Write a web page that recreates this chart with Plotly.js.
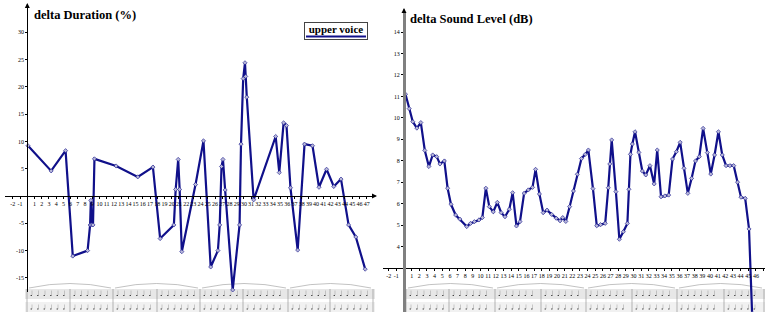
<!DOCTYPE html>
<html>
<head>
<meta charset="utf-8">
<script src="https://cdn.plot.ly/plotly-3.0.1.min.js"></script>
<style>html,body{margin:0;padding:0;background:#fff;}#chart{width:765px;height:312px;}</style>
</head>
<body>
<div id="chart"></div>
<script>
// ---- data: delta Duration (%) (upper voice) ----
const durX = [0.1, 3.3, 5.3, 6.3, 8.35, 8.7, 8.8, 8.9, 9.1, 9.3, 12.3, 15.3, 17.4, 18.4, 20.3, 20.55, 20.9, 21.1, 21.4,
  23.3, 24.4, 25.4, 26.4, 26.65, 26.9, 27.1, 27.4, 28.45, 29.4, 29.6, 29.9, 30.15, 30.25, 30.4, 31.35, 34.4, 34.9,
  35.5, 35.9, 36.45, 37.45, 38.4, 39.5, 40.4, 41.45, 42.45, 43.45, 44.5, 45.5, 46.8];
const durY = [9.2, 4.6, 8.3, -11.0, -10.0, -5.3, -0.8, -5.3, -5.3, 6.8, 5.5, 3.5, 5.3, -7.8, -5.3, 1.2, 6.7, 1.2, -10.2,
  2.1, 10.1, -13.0, -10.0, -5.3, 5.4, 6.7, 1.1, -17.2, -5.3, 9.5, 21.5, 24.4, 21.9, 18.1, -0.7, 10.9, 4.3,
  13.4, 12.9, 1.5, -9.9, 9.5, 9.2, 1.6, 4.9, 1.75, 3.1, -5.3, -7.5, -13.4];

// ---- data: delta Sound Level (dB) ----
const slX = [0.2, 0.68, 1.15, 1.68, 2.2, 2.72, 3.25, 3.75, 4.27, 4.7, 5.27, 5.7, 6.14, 6.75, 7.3, 8.2, 8.7, 9.2, 9.8, 10.24,
  10.7, 11.15, 11.67, 12.2, 12.7, 13.2, 13.77, 14.2, 14.7, 15.16, 15.7, 16.25, 16.8, 17.2, 17.7, 18.2, 18.7, 19.3, 19.9,
  20.4, 20.75, 21.15, 21.65, 22.15, 22.65, 23.2, 23.7, 24.1, 24.7, 25.2, 25.7, 26.3, 26.7, 26.9, 27.15, 27.7, 28.15,
  28.67, 29.2, 29.4, 29.6, 29.85, 30.2, 30.7, 31.15, 31.6, 32.15, 32.7, 33.1, 33.6, 34.1, 34.6, 35.1, 35.6, 36.1, 36.6,
  37.1, 37.6, 38.1, 38.6, 39.1, 39.65, 40.1, 40.6, 41.1, 41.6, 42.1, 42.6, 43.1, 43.6, 44.05, 44.6, 45.1, 45.5];
const slY = [11.1, 10.43, 9.82, 9.52, 9.78, 8.48, 7.73, 8.27, 8.19, 7.85, 7.99, 6.72, 5.97, 5.47, 5.28, 4.93, 5.08, 5.16, 5.24, 5.35,
  6.72, 5.86, 5.62, 6.06, 5.58, 5.39, 5.74, 6.51, 4.96, 5.16, 6.48, 6.64, 6.76, 7.6, 6.45, 5.58, 5.7, 5.5, 5.32,
  5.2, 5.35, 5.17, 5.86, 6.59, 7.37, 8.1, 8.3, 8.5, 6.7, 4.97, 5.02, 5.08, 6.74, 7.85, 8.97, 6.56, 4.34,
  4.69, 5.08, 6.67, 8.3, 8.78, 9.35, 8.39, 7.52, 7.34, 7.77, 6.92, 8.5, 6.32, 6.36, 6.4, 8.08, 8.42, 8.86, 7.65,
  6.48, 7.18, 7.99, 8.19, 9.51, 8.38, 7.38, 8.27, 9.35, 8.27, 7.77, 7.77, 7.77, 7.0, 6.3, 6.25, 4.82, 0.9];

// ---- tick labels ----
const measureTicks = [-2, -1, 1, 2, 3, 4, 5, 6, 7, 8, 9, 10, 11, 12, 13, 14, 15, 16, 17, 18, 19, 20, 21, 22, 23, 24,
  25, 26, 27, 28, 29, 30, 31, 32, 33, 34, 35, 36, 37, 38, 39, 40, 41, 42, 43, 44, 45, 46, 47];
const durTicks = [-15, -10, -5, 5, 10, 15, 20, 25, 30];
const slTicks = [4, 5, 6, 7, 8, 9, 10, 11, 12, 13, 14];

const titleLeft = 'delta Duration (%)';
const titleRight = 'delta Sound Level (dB)';
const legendName = 'upper voice';

// ---- layout helpers (pixel -> paper) ----
const W = 765, H = 312;
const px = v => v / W;
const py = v => 1 - v / H;

const lineColor = '#10108a';
const serif = 'Liberation Serif, Times New Roman, serif';
const tickFont = {family: serif, size: 6, color: '#000'};

const traceStyle = {
  mode: 'lines+markers',
  line: {color: lineColor, width: 2.2},
  marker: {symbol: 'diamond', size: 3.2, color: '#b8b8d8', line: {color: lineColor, width: 0.6}},
  showlegend: false,
  hoverinfo: 'x+y'
};

const traces = [
  Object.assign({x: durX, y: durY, xaxis: 'x', yaxis: 'y', name: legendName}, traceStyle),
  Object.assign({x: slX, y: slY, xaxis: 'x2', yaxis: 'y2', name: 'sound level'}, traceStyle)
];

// left panel geometry: x=0 at px 27.3, 7.22 px/unit ; y=0 at py 196, 5.46 px/unit
const L = {x0: 27.3, kx: 7.22, y0: 196, ky: 5.46};
// right panel geometry: x=0 at px 404, 7.65 px/unit ; y=3 at py 268, 21.45 px/unit
const R = {x0: 404, kx: 7.65, y0: 268, ky: 21.45, ybase: 3};

function axisCommon() {
  return {
    showgrid: false, zeroline: false, showline: true, linecolor: '#000', linewidth: 1,
    ticks: 'outside', ticklen: 2, tickwidth: 1, tickcolor: '#000', tickfont: tickFont,
    tickmode: 'array', tickangle: 0, anchor: 'free', fixedrange: true
  };
}

const xaxis = Object.assign(axisCommon(), {
  domain: [px(5), px(375)],
  range: [(5 - L.x0) / L.kx, (375 - L.x0) / L.kx],
  position: py(L.y0),
  tickvals: measureTicks, ticktext: measureTicks.map(String)
});
const yaxis = Object.assign(axisCommon(), {
  domain: [py(292), py(5)],
  range: [(L.y0 - 292) / L.ky, (L.y0 - 5) / L.ky],
  position: px(L.x0),
  tickvals: durTicks, ticktext: durTicks.map(String)
});
const xaxis2 = Object.assign(axisCommon(), {
  domain: [px(383), 1],
  range: [(383 - R.x0) / R.kx, (765 - R.x0) / R.kx],
  position: py(R.y0),
  tickvals: measureTicks, ticktext: measureTicks.map(String)
});
const yaxis2 = Object.assign(axisCommon(), {
  domain: [0, py(12)],
  range: [R.ybase + (R.y0 - 312) / R.ky, R.ybase + (R.y0 - 12) / R.ky],
  position: px(R.x0),
  linecolor: '#808080', linewidth: 2.5,
  tickvals: slTicks, ticktext: slTicks.map(String)
});

// ---- decoration: sheet-music strip below each chart ----
const shapes = [];
function musicStrip(xStart, xEnd, bars) {
  shapes.push({type: 'rect', xref: 'paper', yref: 'paper', x0: px(xStart), x1: px(xEnd), y0: py(299), y1: py(289),
    fillcolor: '#f2f2f2', line: {width: 0}, layer: 'below'});
  const staffRows = [290, 292, 294, 296, 298, 303, 305, 307, 309, 311];
  staffRows.forEach(r => shapes.push({type: 'line', xref: 'paper', yref: 'paper', x0: px(xStart), x1: px(xEnd),
    y0: py(r), y1: py(r), line: {color: '#c4c4c4', width: 0.5}, layer: 'below'}));
  bars.forEach(b => shapes.push({type: 'line', xref: 'paper', yref: 'paper', x0: px(b), x1: px(b),
    y0: py(289), y1: py(312), line: {color: '#888', width: 0.6}, layer: 'below'}));
  // sparse note texture
  for (let i = 0; i < bars.length - 1; i++) {
    const a = bars[i] + 5, b = bars[i + 1] - 3;
    for (let s = a; s < b; s += 6.5) {
      shapes.push({type: 'line', xref: 'paper', yref: 'paper', x0: px(s), x1: px(s), y0: py(295), y1: py(290.5),
        line: {color: '#888', width: 0.4}, layer: 'below'});
      shapes.push({type: 'rect', xref: 'paper', yref: 'paper', x0: px(s - 1.4), x1: px(s), y0: py(296), y1: py(295),
        fillcolor: '#444', line: {width: 0}, layer: 'below'});
      shapes.push({type: 'line', xref: 'paper', yref: 'paper', x0: px(s), x1: px(s), y0: py(309), y1: py(304.5),
        line: {color: '#888', width: 0.4}, layer: 'below'});
      shapes.push({type: 'rect', xref: 'paper', yref: 'paper', x0: px(s - 1.4), x1: px(s), y0: py(309.5), y1: py(308.5),
        fillcolor: '#444', line: {width: 0}, layer: 'below'});
    }
  }
  for (let i = 0; i < bars.length - 2; i += 2) {
    const a = bars[i] + 2, b = bars[i + 2] - 2, m = (a + b) / 2;
    shapes.push({type: 'path', xref: 'paper', yref: 'paper',
      path: `M ${px(a)},${py(288)} Q ${px(m)},${py(279)} ${px(b)},${py(288)}`,
      line: {color: '#999', width: 0.6}, layer: 'below'});
  }
}
musicStrip(25, 375, [27, 70, 113, 157, 200, 243, 288, 330, 373]);
musicStrip(405, 765, [406, 449, 495, 541, 586, 632, 677, 724, 764]);

// legend sample line
shapes.push({type: 'line', xref: 'paper', yref: 'paper', x0: px(306), x1: px(366), y0: py(36.5), y1: py(36.5),
  line: {color: lineColor, width: 2}});

const arrow = (x, y, ax, ay) => ({xref: 'paper', yref: 'paper', x: x, y: y, ax: ax, ay: ay, text: '',
  showarrow: true, arrowhead: 2, arrowsize: 1, arrowwidth: 1, arrowcolor: '#000'});

const annotations = [
  {xref: 'paper', yref: 'paper', x: px(32), y: py(15), xanchor: 'left', yanchor: 'middle', showarrow: false,
    text: '<b>' + titleLeft + '</b>', font: {family: serif, size: 12.5, color: '#000'}},
  {xref: 'paper', yref: 'paper', x: px(408), y: py(19), xanchor: 'left', yanchor: 'middle', showarrow: false,
    text: '<b>' + titleRight + '</b>', font: {family: serif, size: 12.5, color: '#000'}},
  {xref: 'paper', yref: 'paper', x: px(336), y: py(22), xanchor: 'center', yanchor: 'top', showarrow: false,
    text: '<b>' + legendName + '</b>', font: {family: serif, size: 11, color: '#000'},
    width: 62, height: 16, valign: 'top', bordercolor: '#444', borderwidth: 1, borderpad: 0, bgcolor: 'rgba(0,0,0,0)'},
  arrow(px(27.3), py(3), 0, 6),
  arrow(px(377), py(196), -6, 0),
  arrow(px(404), py(8), 0, 6)
];

const layout = {
  width: W, height: H,
  margin: {l: 0, r: 0, t: 0, b: 0, pad: 0},
  paper_bgcolor: '#fff', plot_bgcolor: 'rgba(0,0,0,0)',
  showlegend: false,
  xaxis: xaxis, yaxis: yaxis, xaxis2: xaxis2, yaxis2: yaxis2,
  shapes: shapes, annotations: annotations,
  font: {family: serif}
};

Plotly.newPlot('chart', traces, layout, {displayModeBar: false, staticPlot: true});
</script>
</body>
</html>
